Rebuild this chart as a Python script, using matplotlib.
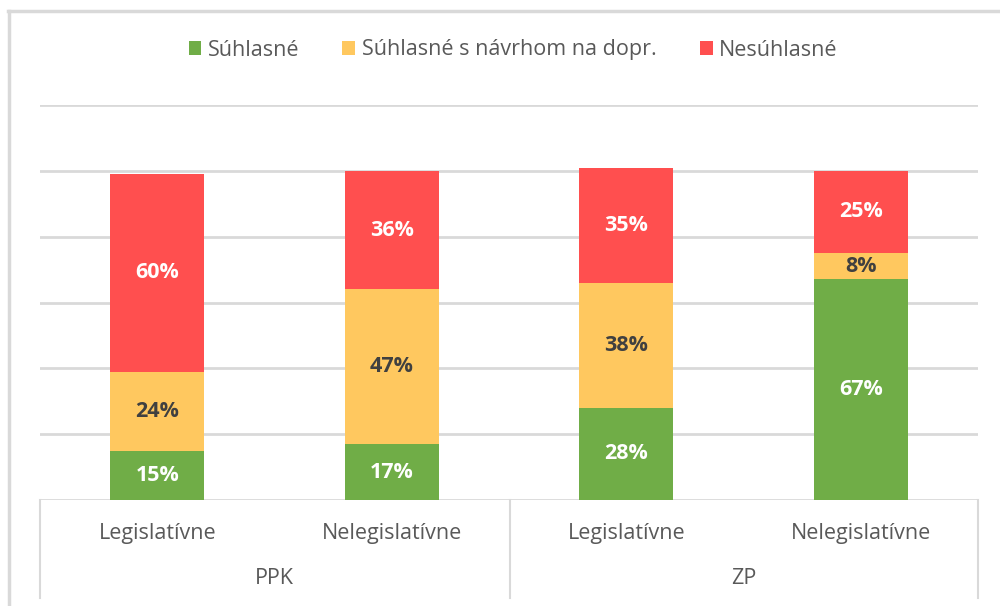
import matplotlib
matplotlib.use("Agg")
import matplotlib.pyplot as plt
from matplotlib.lines import Line2D
from matplotlib.patches import Patch
import numpy as np

plt.rcParams['font.family'] = ['Open Sans', 'DejaVu Sans']

# data
groups = ["PPK", "ZP"]
categories = ["Legislatívne", "Nelegislatívne", "Legislatívne", "Nelegislatívne"]
series_names = ["Súhlasné", "Súhlasné s návrhom na dopr.", "Nesúhlasné"]
suhlasne = [15, 17, 28, 67]
suhlasne_dopr = [24, 47, 38, 8]
nesuhlasne = [60, 36, 35, 25]

colors = ["#70AD47", "#FFC85F", "#FF4F4F"]
label_colors = ["white", "#404040", "white"]
grid_col = "#d9d9d9"
text_col = "#595959"

fig = plt.figure(figsize=(10, 6.06), dpi=100)
W, H = 1000, 606

def fx(px):
	return px / W

def fy(py):
	return 1 - py / H

ax = fig.add_axes([fx(40), fy(500), fx(978) - fx(40), fy(105) - fy(500)])

x = np.arange(len(categories))
bottom = np.zeros(len(categories))
for vals, col, lc in zip([suhlasne, suhlasne_dopr, nesuhlasne], colors, label_colors):
	vals = np.array(vals, dtype=float)
	ax.bar(x, vals, width=0.4, bottom=bottom, color=col, zorder=3)
	for xi, b, v in zip(x, bottom, vals):
		ax.text(xi, b + v / 2, f"{int(v)}%", ha='center', va='center',
				color=lc, fontsize=15.5, fontweight='bold', zorder=4)
	bottom += vals

ax.set_xlim(-0.5, len(categories) - 0.5)
ax.set_ylim(0, 120)
ax.set_yticks(np.arange(0, 121, 20))
ax.yaxis.grid(True, color=grid_col, linewidth=2)
ax.set_axisbelow(True)
ax.set_yticklabels([])
ax.tick_params(left=False, bottom=False, labelbottom=False)
for s in ax.spines.values():
	s.set_visible(False)

# category labels (two level axis)
for i, c in enumerate(categories):
	fig.text(fx(40 + 234.5 * (i + 0.5)), fy(533), c, ha='center', va='center',
			 fontsize=15.5, color=text_col)
for j, g in enumerate(groups):
	fig.text(fx(40 + 469 * (j + 0.5)), fy(579), g, ha='center', va='center',
			 fontsize=15.5, color=text_col)
for px in [40, 510, 978]:
	fig.add_artist(Line2D([fx(px), fx(px)], [fy(500), fy(598)], color=grid_col, linewidth=1.5))

# outer frame
fig.add_artist(Line2D([fx(8), fx(1000)], [fy(11), fy(11)], color=grid_col, linewidth=2.5))
fig.add_artist(Line2D([fx(9), fx(9)], [fy(11), fy(606)], color=grid_col, linewidth=2.5))

handles = [Patch(facecolor=c, edgecolor='none') for c in colors]
fig.legend(handles, series_names, loc='center', bbox_to_anchor=(fx(513), fy(50)),
		   ncol=3, frameon=False, fontsize=15.5, handlelength=0.6, handleheight=0.6,
		   handletextpad=0.3, columnspacing=2.0, labelcolor=text_col)

fig.savefig("out.png", dpi=100)
